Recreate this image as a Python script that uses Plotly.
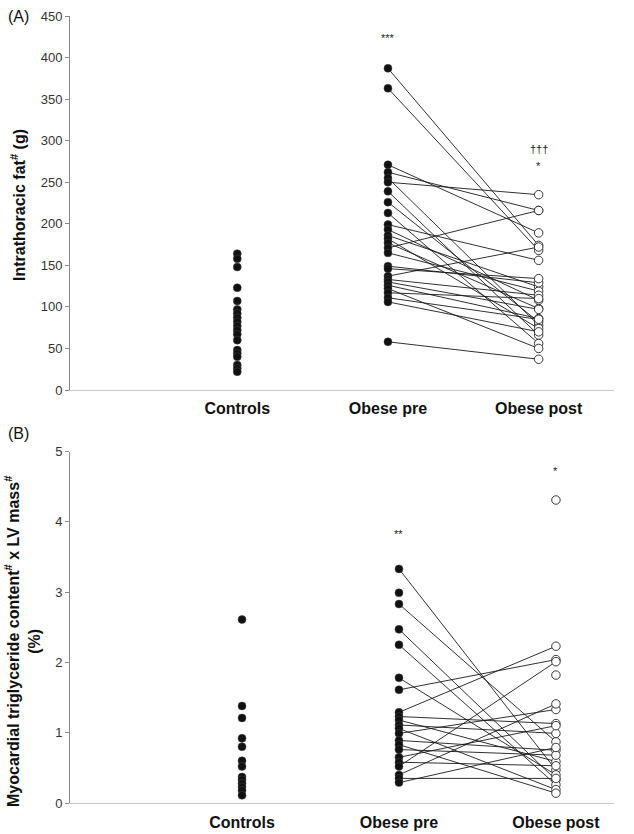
import plotly.graph_objects as go

# ---------------- data ----------------
categories = ["Controls", "Obese pre", "Obese post"]

# Panel A: intrathoracic fat (g)
controls_A = [164, 158, 148, 123, 107, 97, 92, 87, 82, 77, 72, 67, 60, 48, 44, 40, 30, 26, 22]
pre_A = [387, 363, 271, 262, 255, 250, 239, 226, 213, 199, 193, 186, 182, 177, 171, 165,
         149, 146, 137, 133, 130, 126, 122, 117, 111, 106, 58]
post_A = [174, 168, 189, 216, 78, 235, 66, 82, 56, 156, 108, 124, 74, 98, 216, 119,
          129, 134, 172, 114, 97, 86, 50, 110, 85, 70, 37]

# Panel B: myocardial triglyceride content x LV mass (%)
controls_B = [2.61, 1.38, 1.21, 0.92, 0.80, 0.60, 0.52, 0.37, 0.33, 0.28, 0.23, 0.18, 0.11]
pre_B = [3.33, 2.99, 2.83, 2.47, 2.25, 1.78, 1.61, 1.29, 1.23, 1.18, 1.11, 1.06, 0.99,
         0.89, 0.83, 0.76, 0.65, 0.58, 0.52, 0.40, 0.35, 0.29]
post_B = [0.47, None, 0.87, 0.33, 0.26, 0.40, 2.04, 2.23, 1.13, 0.59, 0.99, 0.19, 1.33,
          0.75, 0.14, 0.68, 1.10, 0.53, 2.01, 1.41, 0.35, 0.79]
post_B_unpaired = [4.31, 1.82]

ticks_A = list(range(0, 451, 50))
ticks_B = [0, 1, 2, 3, 4, 5]

# ---------------- figure ----------------
W, H = 634, 834
ML, MR, MT, MB = 70, 20, 16, 31
fig = go.Figure()

FONT = "Liberation Sans, Arial, sans-serif"


def add_panel(xa, ya, ctrl, pre, post, extra_post):
    lx, ly = [], []
    for a, b in zip(pre, post):
        if b is None:
            continue
        lx += [categories[1], categories[2], None]
        ly += [a, b, None]
    fig.add_trace(go.Scatter(x=lx, y=ly, mode="lines", xaxis=xa, yaxis=ya,
                             line=dict(color="#1a1a1a", width=0.9), showlegend=False,
                             hoverinfo="skip"))
    fig.add_trace(go.Scatter(x=[categories[0]] * len(ctrl), y=ctrl, mode="markers",
                             xaxis=xa, yaxis=ya, showlegend=False,
                             marker=dict(color="#111", size=8,
                                         line=dict(color="#444", width=0.5))))
    fig.add_trace(go.Scatter(x=[categories[1]] * len(pre), y=pre, mode="markers",
                             xaxis=xa, yaxis=ya, showlegend=False,
                             marker=dict(color="#111", size=8,
                                         line=dict(color="#444", width=0.5))))
    pv = [v for v in post if v is not None] + extra_post
    fig.add_trace(go.Scatter(x=[categories[2]] * len(pv), y=pv, mode="markers",
                             xaxis=xa, yaxis=ya, showlegend=False,
                             marker=dict(color="white", size=8.5,
                                         line=dict(color="#222", width=0.9))))


add_panel("x", "y", controls_A, pre_A, post_A, [])
add_panel("x2", "y2", controls_B, pre_B, post_B, post_B_unpaired)

plot_h = H - MT - MB
plot_w = W - ML - MR


def py(pix):
    return (H - MB - pix) / plot_h


def px(pix):
    return (pix - ML) / plot_w


domA = [py(390), py(16)]
domB = [py(803), py(451.5)]

xcommon = dict(type="category", categoryorder="array", categoryarray=categories,
               showgrid=False, zeroline=False, showline=True, linecolor="#c8c8c8",
               linewidth=1.2, ticks="outside", tickcolor="rgba(0,0,0,0)",
               automargin=False,
               tickfont=dict(family=FONT, size=16, color="#111", weight="bold"))
ycommon = dict(showgrid=False, zeroline=False, showline=True, linecolor="#888",
               linewidth=1, ticks="outside", ticklen=4, tickcolor="#888", tickwidth=1,
               automargin=False,
               tickfont=dict(family=FONT, size=13, color="#333"))

fig.update_layout(
    width=W, height=H, margin=dict(l=ML, r=MR, t=MT, b=MB, autoexpand=False),
    plot_bgcolor="white", paper_bgcolor="white",
    font=dict(family=FONT, color="#111"),
    xaxis=dict(xcommon, domain=[0, 1], range=[-1.11, 2.5], anchor="y", ticklen=4),
    yaxis=dict(ycommon, domain=domA, range=[0, 450], tickvals=ticks_A, anchor="x"),
    xaxis2=dict(xcommon, domain=[0, 1], range=[-1.096, 2.37], anchor="y2", ticklen=5),
    yaxis2=dict(ycommon, domain=domB, range=[0, 5], tickvals=ticks_B, anchor="x2"),
)

ann = [
    dict(text="(A)", x=px(18), y=py(16), xanchor="center", yanchor="middle",
         font=dict(size=16, color="#111")),
    dict(text="(B)", x=px(18), y=py(433), xanchor="center", yanchor="middle",
         font=dict(size=16, color="#111")),
    dict(text="<b>Intrathoracic fat<sup>#</sup> (g)</b>", x=px(18), y=py(205),
         textangle=-90, xanchor="center", yanchor="middle", font=dict(size=16)),
    dict(text="<b>Myocardial triglyceride content<sup>#</sup> x LV mass<sup>#</sup><br>(%)</b>",
         x=px(22), y=py(641), textangle=-90, xanchor="center", yanchor="middle",
         font=dict(size=16)),
]
for a in ann:
    a.update(xref="paper", yref="paper", showarrow=False)

fig.update_layout(annotations=ann + [
    dict(text="***", x=categories[1], y=423, xref="x", yref="y", showarrow=False,
         font=dict(size=11, color="#222")),
    dict(text="†††", x=categories[2], y=290, xref="x", yref="y", showarrow=False,
         font=dict(size=11, color="#222")),
    dict(text="*", x=categories[2], y=269, xref="x", yref="y", showarrow=False,
         font=dict(size=11, color="#222")),
    dict(text="**", x=categories[1], y=3.82, xref="x2", yref="y2", showarrow=False,
         font=dict(size=11, color="#222")),
    dict(text="*", x=categories[2], y=4.72, xref="x2", yref="y2", showarrow=False,
         font=dict(size=11, color="#222")),
])

fig.write_html("out.html", config={"displayModeBar": False},
               post_script="document.body.style.margin='0px';document.body.style.overflow='hidden';")
